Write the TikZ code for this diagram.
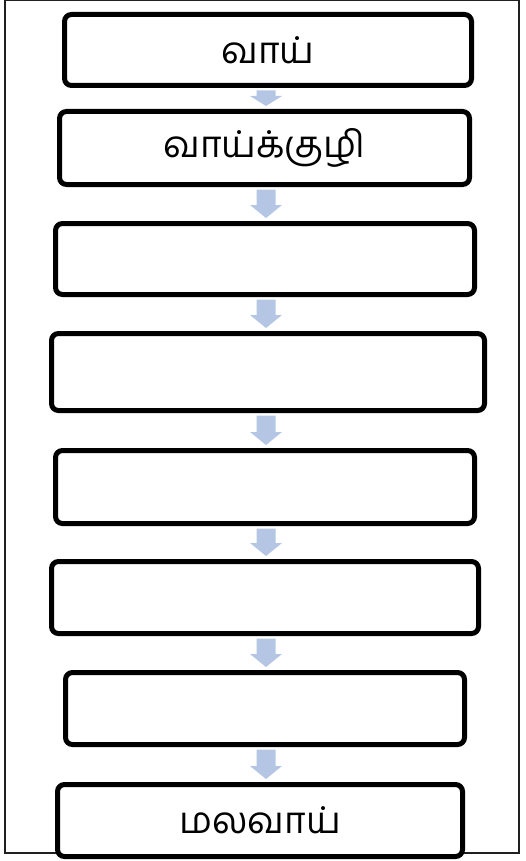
\documentclass[tikz,border=0pt]{standalone}
\usepackage{fontspec}
\newfontfamily\tamilfont[Script=Tamil]{Hind Madurai}
\usetikzlibrary{calc}
\definecolor{arrowblue}{HTML}{B4C6E3}
\definecolor{framegray}{HTML}{202020}
\tikzset{
  flowbox/.style={draw=black, line width=5pt, rounded corners=7pt, fill=white,
    inner sep=0pt, font=\tamilfont\fontsize{37}{42}\selectfont},
  arrowfill/.style={fill=arrowblue},
}
\newcommand{\flowarrow}[3]{%
  \fill[arrowfill] let \p1=(#1.south), \p2=(#2.north) in
    (256.5pt,\y1-2.5pt) -- (275.5pt,\y1-2.5pt) -- (275.5pt,\y2+3pt+#3) --
    (282pt,\y2+3pt+#3) -- (266pt,\y2+3pt) -- (250pt,\y2+3pt+#3) --
    (256.5pt,\y2+3pt+#3) -- cycle;}
\begin{document}
\begin{tikzpicture}[x=1pt,y=-1pt]
\useasboundingbox (0,0) rectangle (526,861);
\draw[framegray, line width=1.2pt] (5,0.8) rectangle (519,853);
\node[flowbox, minimum width=407pt, minimum height=71pt] (b1) at (268,50) {வாய்};
\node[flowbox, minimum width=410pt, minimum height=73pt] (b2) at (264.5,148) {வாய்க்குழி};
\node[flowbox, minimum width=419pt, minimum height=71pt] (b3) at (265,259) {};
\node[flowbox, minimum width=433pt, minimum height=77pt] (b4) at (268,372) {};
\node[flowbox, minimum width=419pt, minimum height=73pt] (b5) at (265,487) {};
\node[flowbox, minimum width=427pt, minimum height=72pt] (b6) at (265,597.5) {};
\node[flowbox, minimum width=399pt, minimum height=72pt] (b7) at (265,708.5) {};
\node[flowbox, minimum width=405pt, minimum height=72pt] (b8) at (260,820.5) {மலவாய்};
\flowarrow{b1}{b2}{10pt}
\flowarrow{b2}{b3}{13pt}
\flowarrow{b3}{b4}{13pt}
\flowarrow{b4}{b5}{13pt}
\flowarrow{b5}{b6}{13pt}
\flowarrow{b6}{b7}{13pt}
\flowarrow{b7}{b8}{13pt}
\end{tikzpicture}
\end{document}
